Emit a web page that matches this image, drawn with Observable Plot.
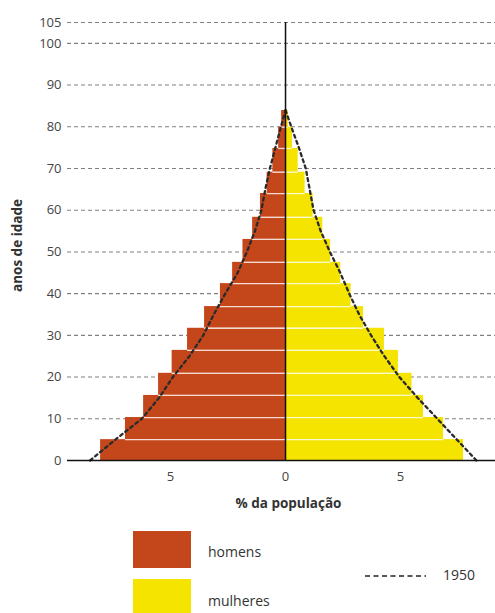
<!DOCTYPE html>
<html><head><meta charset="utf-8">
<script src="https://cdn.jsdelivr.net/npm/d3@7"></script>
<script src="https://cdn.jsdelivr.net/npm/@observablehq/plot@0.6"></script>
<style>
body{margin:0;background:#fff;font-family:"Open Sans",sans-serif;position:relative;width:495px;height:613px;overflow:hidden;}
.sw{position:absolute;left:133px;width:58px;}
.lt{position:absolute;font-size:14px;color:#333;line-height:1;}
</style></head><body>
<div id="chart"></div>
<div class="sw" style="top:531px;height:37px;background:#c4471c"></div>
<div class="lt" style="left:208px;top:545px">homens</div>
<div class="sw" style="top:579px;height:40px;background:#f5e300"></div>
<div class="lt" style="left:208px;top:594px">mulheres</div>
<svg style="position:absolute;left:365px;top:571px" width="62" height="10"><line x1="0" x2="61" y1="5" y2="5" stroke="#222" stroke-width="1.6" stroke-dasharray="5,3.5"/></svg>
<div class="lt" style="left:443px;top:568px">1950</div>
<script>
// age groups (years), as drawn
const groupFrom = [0, 5.0, 10.3, 15.6, 20.9, 26.4, 31.7, 36.9, 42.4, 47.5, 53.0, 58.3, 64.0, 69.1, 74.8, 79.9];
const groupTo   = [5.0, 10.3, 15.6, 20.9, 26.4, 31.7, 36.9, 42.4, 47.5, 53.0, 58.3, 64.0, 69.1, 74.8, 79.9, 83.9];
// % of population
const homens   = [8.04, 6.96, 6.17, 5.52, 4.93, 4.26, 3.52, 2.83, 2.3, 1.85, 1.43, 1.09, 0.8, 0.55, 0.3, 0.17];
const mulheres = [7.74, 6.87, 6.0, 5.5, 4.91, 4.3, 3.39, 2.85, 2.4, 1.96, 1.62, 1.2, 0.85, 0.55, 0.3, 0.12];
// 1950 profile
const age1950      = [0, 5, 10, 15, 20, 25, 30, 35, 40, 45, 50, 55, 60, 65, 70, 75, 80, 84];
const homens1950   = [8.5, 7.4, 6.25, 5.5, 4.9, 4.18, 3.58, 3.12, 2.62, 2.08, 1.68, 1.33, 1.05, 0.88, 0.68, 0.44, 0.2, 0];
const mulheres1950 = [8.3, 7.45, 6.6, 5.75, 4.95, 4.3, 3.72, 3.2, 2.77, 2.38, 1.93, 1.53, 1.22, 1.05, 0.88, 0.58, 0.25, 0];
const yTicks = [0, 10, 20, 30, 40, 50, 60, 70, 80, 90, 100, 105];
const xTicks = [-5, 0, 5];
const xTickLabels = ["5", "0", "5"];

const brown = "#c4471c", yellow = "#f5e300";
const rows = groupFrom.map((f, i) => ({from: f, to: groupTo[i], h: -homens[i], m: mulheres[i], zero: 0}));
const line1950H = age1950.map((a, i) => ({age: a, v: -homens1950[i]}));
const line1950M = age1950.map((a, i) => ({age: a, v: mulheres1950[i]}));

const chart = Plot.plot({
  width: 495, height: 520,
  marginLeft: 67, marginRight: 0, marginTop: 22, marginBottom: 60,
  style: {fontFamily: "'Open Sans', sans-serif", fontSize: "13px", color: "#444", background: "#fff"},
  x: {domain: [-9.48, 9.13]},
  y: {domain: [0, 105]},
  marks: [
    Plot.ruleY(yTicks.filter(d => d > 0), {stroke: "#808080", strokeWidth: 1.1, strokeDasharray: "4,3"}),
    Plot.rect(rows, {x1: "h", x2: "zero", y1: "from", y2: "to", fill: brown}),
    Plot.rect(rows, {x1: "zero", x2: "m", y1: "from", y2: "to", fill: yellow}),
    Plot.ruleY(rows.slice(1), {y: "from", x1: "h", x2: "m", stroke: "#fff", strokeOpacity: 0.8, strokeWidth: 1.3}),
    Plot.lineX(line1950H, {x: "v", y: "age", stroke: "#2a2a2a", strokeWidth: 2.3, strokeDasharray: "3,3.5"}),
    Plot.lineX(line1950M, {x: "v", y: "age", stroke: "#2a2a2a", strokeWidth: 2.3, strokeDasharray: "3,3.5"}),
    Plot.ruleX([{x: 0, y1: 0, y2: 105}], {x: "x", y1: "y1", y2: "y2", stroke: "#111", strokeWidth: 1.5}),
    Plot.ruleY([0], {stroke: "#111", strokeWidth: 1.5}),
    Plot.axisY(yTicks, {tickSize: 0, tickPadding: 6, fontSize: 13, fill: "#444", label: null}),
    Plot.axisX(xTicks, {tickSize: 0, tickPadding: 11, fontSize: 13, fill: "#444", label: null,
      tickFormat: d => xTickLabels[xTicks.indexOf(d)]}),
    Plot.text(["anos de idade"], {frameAnchor: "left", textAnchor: "middle", rotate: -90, dx: -50, dy: 4, fontWeight: "bold", fontSize: 13.5, fill: "#333"}),
    Plot.text(["% da população"], {frameAnchor: "bottom", textAnchor: "middle", dx: 7, dy: 47, fontWeight: "bold", fontSize: 13.5, fill: "#333"})
  ]
});
document.getElementById("chart").append(chart);
</script>
</body></html>
